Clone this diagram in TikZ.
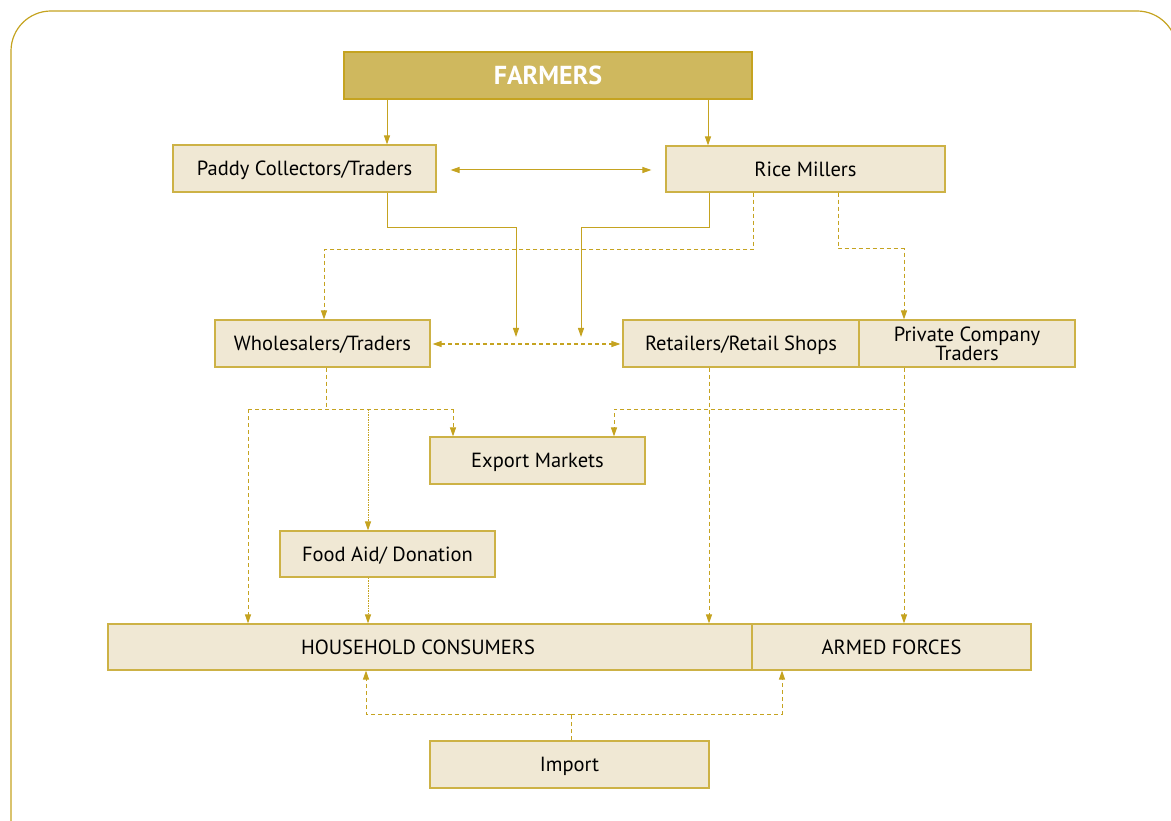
\documentclass[tikz,border=0pt]{standalone}
\usepackage{fontspec}
\setmainfont{PT Sans}
\usetikzlibrary{arrows.meta}
\definecolor{gold}{RGB}{197,163,32}
\definecolor{boxline}{RGB}{205,178,70}
\definecolor{boxfill}{RGB}{240,232,212}
\definecolor{farmfill}{RGB}{207,184,94}
\begin{document}
\begin{tikzpicture}[x=1pt,y=-1pt,
  box/.style={draw=boxline,fill=boxfill,line width=1.1pt,inner sep=0pt,align=center,text depth=0pt,font=\fontsize{20.5}{15.5}\selectfont},
  topbox/.style={box,fill=farmfill,draw=gold,text=white,font=\fontsize{26}{26}\selectfont\bfseries},
  conn/.style={draw=gold,line width=1pt,-{Triangle[length=9pt,width=6pt]}},
  line/.style={draw=gold,line width=1pt},
  dsh/.style={dash pattern=on 4pt off 3pt},
  dtt/.style={dash pattern=on 1.5pt off 1pt}]
\useasboundingbox (0,0) rectangle (1171,821);
\clip (0,0) rectangle (1171,821);
\draw[gold,line width=1.2pt,rounded corners=40pt] (11,11) rectangle (1177,860);

\node[topbox,minimum width=408pt,minimum height=47pt] (farmers) at (548,75.5) {FARMERS};
\node[box,minimum width=263pt,minimum height=47pt] (paddy) at (304.5,168.5) {Paddy Collectors/Traders};
\node[box,minimum width=279pt,minimum height=46pt] (rice) at (805.5,169) {Rice Millers};
\node[box,minimum width=215pt,minimum height=47pt] (whole) at (322.5,343.5) {Wholesalers/Traders};
\node[box,minimum width=236pt,minimum height=47pt] (retail) at (741,343.5) {Retailers/Retail Shops};
\node[box,minimum width=216pt,minimum height=47pt] (private) at (967,343.5) {Private Company\\Traders};
\node[box,minimum width=215pt,minimum height=47pt] (export) at (537.5,460.5) {Export Markets};
\node[box,minimum width=215pt,minimum height=46pt] (food) at (387.5,554) {Food Aid/ Donation};
\node[box,minimum width=644pt,minimum height=46pt] (house) at (430,647) {HOUSEHOLD CONSUMERS\hspace*{24pt}};
\node[box,minimum width=279pt,minimum height=46pt] (armed) at (891.5,647) {ARMED FORCES};
\node[box,minimum width=279pt,minimum height=47pt] (import) at (569.5,764.5) {Import};

% farmers down
\draw[conn] (farmers.south -| 387,0) -- (paddy.north -| 387,0);
\draw[conn] (farmers.south -| 708,0) -- (rice.north -| 708,0);
% paddy <-> rice
\draw[conn,{Triangle[length=9pt,width=6pt]}-{Triangle[length=9pt,width=6pt]},shorten <=14pt,shorten >=14pt] (paddy.east |- 0,170) -- (rice.west |- 0,170);
% solid feeds
\coordinate (j1) at (516,337);
\coordinate (j2) at (581,337);
\draw[conn] (paddy.south -| 387,0) |- (516,228) -- (j1);
\draw[conn] (rice.south -| 709,0) |- (581,228) -- (j2);
% rice dashed
\draw[conn,dsh] (rice.south -| 753,0) |- (324,250) -- (whole.north -| 324,0);
\draw[conn,dsh] (rice.south -| 838,0) |- (904,249) -- (private.north -| 904,0);
% wholesaler <-> retail
\draw[conn,dsh,{Triangle[length=9pt,width=6pt]}-{Triangle[length=9pt,width=6pt]},shorten <=2pt,shorten >=2pt] (whole.east |- 0,344) -- (retail.west |- 0,344);
% wholesaler branches
\draw[line,dsh] (whole.south -| 326,0) -- (326,409);
\draw[line,dsh] (248,409) -- (453,409);
\draw[conn,dsh] (248,409) -- (house.north -| 248,0);
\draw[conn,dtt] (368,409) -- (food.north -| 368,0);
\draw[conn,dsh] (453,409) -- (export.north -| 453,0);
\draw[conn,dtt] (food.south -| 368,0) -- (house.north -| 368,0);
% retail down
\draw[conn,dsh] (retail.south -| 709,0) -- (house.north -| 709,0);
% private branches
\draw[conn,dsh] (private.south -| 904,0) -- (armed.north -| 904,0);
\draw[conn,dsh] (904,409) -| (export.north -| 614,0);
% import
\draw[line,dsh] (import.north -| 571,0) -- (571,714);
\draw[conn,dsh] (571,714) -| (house.south -| 366,0);
\draw[conn,dsh] (571,714) -| (armed.south -| 782,0);
\end{tikzpicture}
\end{document}
